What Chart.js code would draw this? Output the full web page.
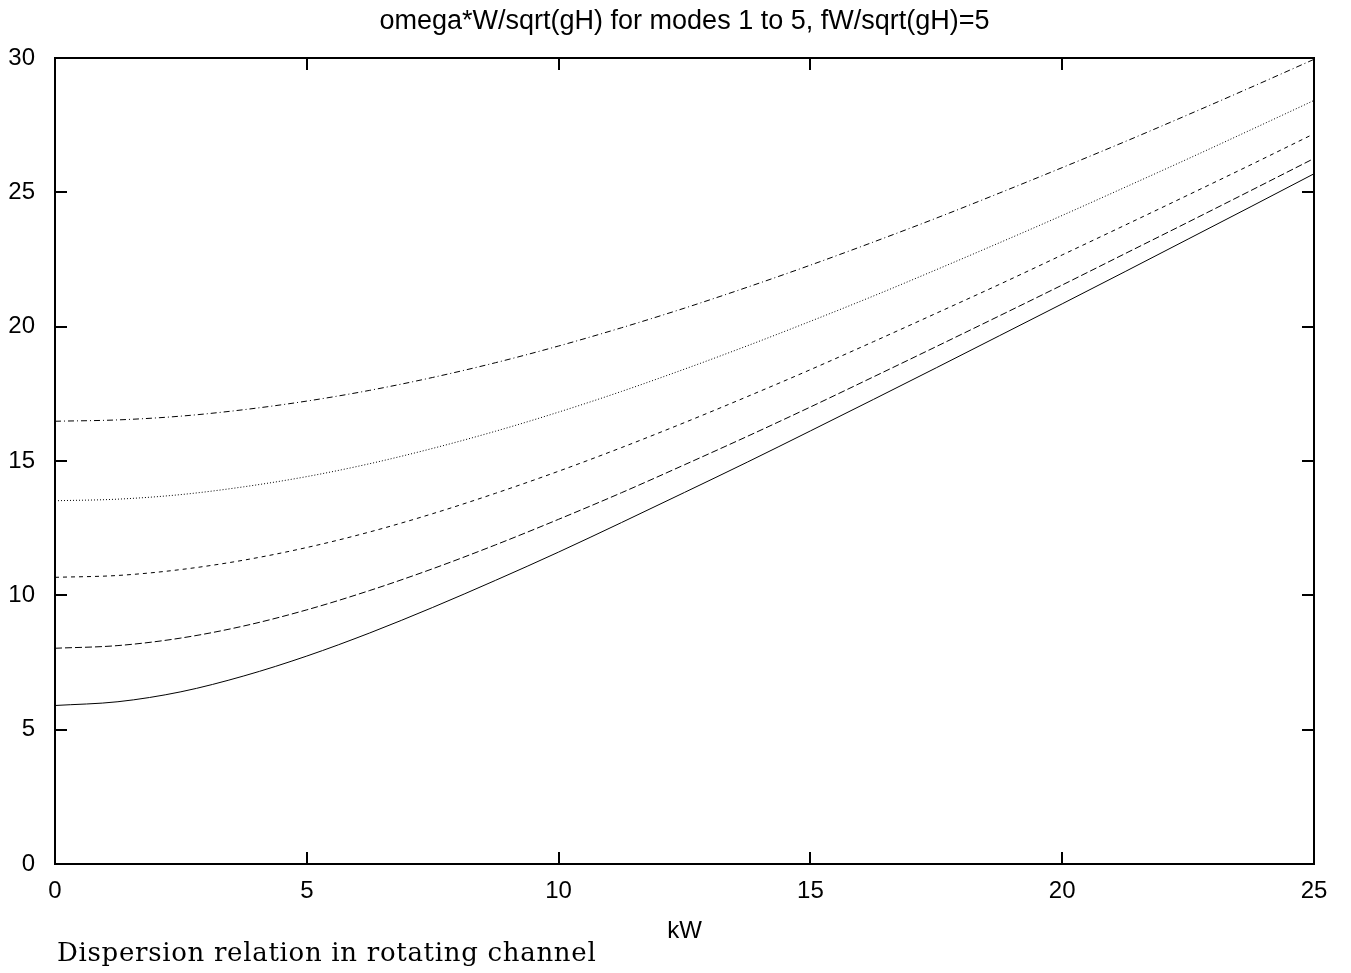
<!DOCTYPE html>
<html>
<head>
<meta charset="utf-8">
<script src="https://cdn.jsdelivr.net/npm/chart.js@4.4.1/dist/chart.umd.min.js"></script>
<style>
  html, body { margin: 0; padding: 0; background: #fff; }
  #wrap { position: relative; width: 1351px; height: 973px; }
  #caption { position: absolute; left: 57px; top: 935px; line-height: 34px; font-family: "DejaVu Serif", "Liberation Serif", serif; font-size: 26px; letter-spacing: 0.7px; color: #000; white-space: nowrap; }
</style>
</head>
<body>
<div id="wrap">
  <canvas id="c" width="1351" height="973"></canvas>
  <div id="caption">Dispersion relation in rotating channel</div>
</div>
<script>
// valores, kW cada 1.25
const kW = [0, 1.25, 2.5, 3.75, 5, 6.25, 7.5, 8.75, 10, 11.25, 12.5, 13.75, 15, 16.25, 17.5, 18.75, 20, 21.25, 22.5, 23.75, 25];
const mode1 = [5.9, 6.04, 6.41, 7.0, 7.74, 8.6, 9.55, 10.56, 11.61, 12.71, 13.83, 14.96, 16.12, 17.29, 18.47, 19.66, 20.85, 22.05, 23.26, 24.47, 25.69];
const mode2 = [8.03, 8.13, 8.41, 8.86, 9.46, 10.18, 10.99, 11.88, 12.83, 13.82, 14.86, 15.92, 17.01, 18.13, 19.26, 20.4, 21.55, 22.72, 23.89, 25.07, 26.26];
const mode3 = [10.67, 10.74, 10.96, 11.31, 11.78, 12.36, 13.04, 13.8, 14.62, 15.5, 16.43, 17.4, 18.4, 19.44, 20.5, 21.57, 22.67, 23.78, 24.9, 26.03, 27.18];
const mode4 = [13.52, 13.58, 13.75, 14.04, 14.42, 14.9, 15.47, 16.11, 16.82, 17.59, 18.42, 19.29, 20.2, 21.14, 22.12, 23.12, 24.14, 25.19, 26.25, 27.33, 28.42];
const mode5 = [16.48, 16.53, 16.67, 16.91, 17.23, 17.63, 18.11, 18.66, 19.28, 19.96, 20.69, 21.47, 22.29, 23.15, 24.04, 24.97, 25.92, 26.89, 27.89, 28.91, 29.95];
const xTicks = [0, 5, 10, 15, 20, 25];
const yTicks = [0, 5, 10, 15, 20, 25, 30];

const FONT = "'Liberation Sans', Arial, sans-serif";
const toPts = (ys) => ys.map((y, i) => ({ x: kW[i], y }));

const series = [
  { data: mode1, dash: [] },
  { data: mode2, dash: [7, 3] },
  { data: mode3, dash: [4, 4] },
  { data: mode4, dash: [1, 2] },
  { data: mode5, dash: [6, 3, 1, 3] },
];

// marco + marcas hacia dentro en los cuatro lados (estilo gnuplot)
const frame = {
  id: "frame",
  afterDatasetsDraw(chart) {
    const { ctx, chartArea: a, scales: { x, y } } = chart;
    const TL = 12;
    ctx.save();
    ctx.strokeStyle = "#000";
    ctx.lineWidth = 2;
    ctx.beginPath();
    xTicks.forEach((v) => {
      const px = Math.round(x.getPixelForValue(v));
      ctx.moveTo(px, a.bottom); ctx.lineTo(px, a.bottom - TL);
      ctx.moveTo(px, a.top); ctx.lineTo(px, a.top + TL);
    });
    yTicks.forEach((v) => {
      const py = Math.round(y.getPixelForValue(v));
      ctx.moveTo(a.left, py); ctx.lineTo(a.left + TL, py);
      ctx.moveTo(a.right, py); ctx.lineTo(a.right - TL, py);
    });
    ctx.stroke();
    ctx.strokeRect(a.left, a.top, a.right - a.left, a.bottom - a.top);
    ctx.restore();
  },
};

new Chart(document.getElementById("c"), {
  type: "line",
  data: {
    datasets: series.map((s) => ({
      data: toPts(s.data), borderColor: "#000", borderWidth: 1, borderDash: s.dash,
      pointRadius: 0, fill: false, cubicInterpolationMode: "monotone",
    })),
  },
  options: {
    responsive: false, animation: false, events: [],
    layout: { padding: { left: 0, right: 37, top: 0, bottom: 0 } },
    plugins: {
      legend: { display: false }, tooltip: { enabled: false },
      title: {
        display: true, fullSize: false, text: "omega*W/sqrt(gH) for modes 1 to 5, fW/sqrt(gH)=5",
        color: "#000", font: { family: FONT, size: 27, weight: "normal" },
        padding: { top: 5, bottom: 20.6 },
      },
    },
    scales: {
      x: {
        type: "linear", min: 0, max: 25,
        afterBuildTicks: (s) => { s.ticks = xTicks.map((v) => ({ value: v })); },
        afterFit: (s) => { s.height = 109; },
        grid: { display: false, drawTicks: false }, border: { display: false },
        ticks: { color: "#000", padding: 13, maxRotation: 0, font: { family: FONT, size: 24 } },
        title: { display: true, text: "kW", color: "#000", padding: { top: 0, bottom: 27 }, font: { family: FONT, size: 24 } },
      },
      y: {
        type: "linear", min: 0, max: 30,
        afterBuildTicks: (s) => { s.ticks = yTicks.map((v) => ({ value: v })); },
        afterFit: (s) => { s.width = 55; },
        grid: { display: false, drawTicks: false }, border: { display: false },
        ticks: { color: "#000", padding: 20, font: { family: FONT, size: 24 } },
      },
    },
  },
  plugins: [frame],
});
</script>
</body>
</html>
